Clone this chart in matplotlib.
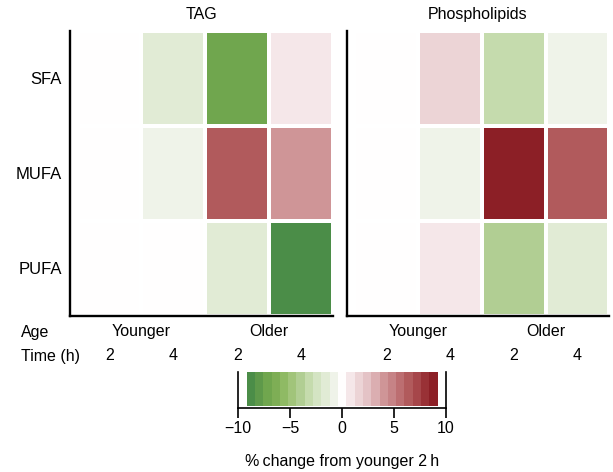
import numpy as np
import matplotlib
matplotlib.use("Agg")
import matplotlib.pyplot as plt
from matplotlib.colors import LinearSegmentedColormap, BoundaryNorm, ListedColormap
from matplotlib.transforms import blended_transform_factory

plt.rcParams['font.family'] = ['Liberation Sans', 'DejaVu Sans']

# ---- data ----
classes = ["SFA", "MUFA", "PUFA"]
ages = ["Younger", "Older"]
times = ["2", "4", "2", "4"]
panel_titles = ["TAG", "Phospholipids"]
# % change from younger 2 h ; columns: Younger 2h, Younger 4h, Older 2h, Older 4h
tag_values = [
    [0.0, -1.6, -7.0, 0.8],
    [0.0, -0.8, 6.6, 4.0],
    [0.0, 0.0, -1.6, -8.8],
]
pl_values = [
    [0.0, 1.7, -3.2, -0.8],
    [0.0, -0.8, 9.0, 6.5],
    [0.0, 0.8, -4.0, -1.6],
]
cbar_ticks = [-10, -5, 0, 5, 10]
cbar_label = "%\u2009change from younger 2\u2009h"

# ---- colour scale ----
anchor_vals = [-8.8, -8.0, -7.2, -6.4, -5.6, -4.8, -4.0, -3.2, -2.4, -1.6, -0.8, 0.0,
               0.8, 1.6, 2.4, 3.2, 4.0, 4.8, 5.6, 6.4, 7.2, 8.0, 8.8]
anchor_cols = ["#4b8d48", "#5f9a4a", "#70a64e", "#7faf55", "#90ba65", "#a1c47a",
               "#b2cf94", "#c5dbad", "#d4e4c3", "#e1ebd5", "#eff3e9", "#ffffff",
               "#f5e7e9", "#ecd4d6", "#e4c3c6", "#dbaeb1", "#cf9698", "#c68386",
               "#bc6f72", "#b25b5d", "#a6464a", "#9a3237", "#8c1f26"]
cmap = LinearSegmentedColormap.from_list(
    "gwr", [((v + 8.8) / 17.6, c) for v, c in zip(anchor_vals, anchor_cols)])
bounds = np.linspace(-9.2, 9.2, 24)
band_centers = (bounds[:-1] + bounds[1:]) / 2
dcmap = ListedColormap([cmap((c + 8.8) / 17.6) for c in band_centers])
dnorm = BoundaryNorm(bounds, dcmap.N, clip=True)

FS = 11.5
W, H = 613, 472
fig = plt.figure(figsize=(W / 100, H / 100), dpi=100)

def px_axes(x0, y0, x1, y1):
    return fig.add_axes([x0 / W, 1 - y1 / H, (x1 - x0) / W, (y1 - y0) / H])

ax_l = px_axes(70, 30.7, 333, 316)
ax_r = px_axes(346.7, 30.7, 609.3, 316)

for ax, vals, title in [(ax_l, tag_values, panel_titles[0]), (ax_r, pl_values, panel_titles[1])]:
    arr = np.array(vals)
    ax.pcolormesh(np.arange(5), np.arange(4), arr, cmap=dcmap, norm=dnorm,
                  edgecolors="white", linewidth=2.6)
    ax.set_xlim(-0.12, 4)
    ax.set_ylim(3, 0)
    for s in ["top", "right"]:
        ax.spines[s].set_visible(False)
    for s in ["left", "bottom"]:
        ax.spines[s].set_linewidth(1.7)
        ax.spines[s].set_zorder(3)
    ax.set_xticks([])
    ax.text(0.5, 1.0585, title, transform=ax.transAxes, ha="center", va="center", fontsize=FS)
    tr = blended_transform_factory(ax.transData, ax.transAxes)
    for i, age in enumerate(ages):
        ax.text(1.0 + 2 * i, -0.056, age, transform=tr, ha="center", va="center", fontsize=FS)
    for j, t in enumerate(times):
        ax.text(j + 0.5, -0.14, t, transform=tr, ha="center", va="center", fontsize=FS)

ax_l.set_yticks(np.arange(3) + 0.5)
ax_l.set_yticklabels(classes, fontsize=12)
ax_l.tick_params(axis="y", length=0, pad=6)
ax_r.set_yticks([])

fig.text(20.7 / W, 1 - 332 / H, "Age", ha="left", va="center", fontsize=FS)
fig.text(20.7 / W, 1 - 356 / H, "Time (h)", ha="left", va="center", fontsize=FS)

# ---- colour bar ----
cax = px_axes(238.3, 371.7, 446, 407.5)
cax.pcolormesh(bounds, [0.04, 1.0], band_centers[np.newaxis, :], cmap=dcmap, norm=dnorm)
cax.set_xlim(-10, 10)
cax.set_ylim(0, 1)
cax.spines["top"].set_visible(False)
for s in ["left", "right", "bottom"]:
    cax.spines[s].set_linewidth(1.2)
cax.set_yticks([])
cax.set_xticks(cbar_ticks)
cax.set_xticklabels(["\u2212" + str(abs(t)) if t < 0 else str(t) for t in cbar_ticks], fontsize=FS)
cax.tick_params(axis="x", length=7, width=1.2, pad=3)
cax.text(0.5, 1 - (461.7 - 371.7) / 35.8, cbar_label, transform=cax.transAxes,
         ha="center", va="center", fontsize=FS)

fig.savefig("out.png", dpi=100)
